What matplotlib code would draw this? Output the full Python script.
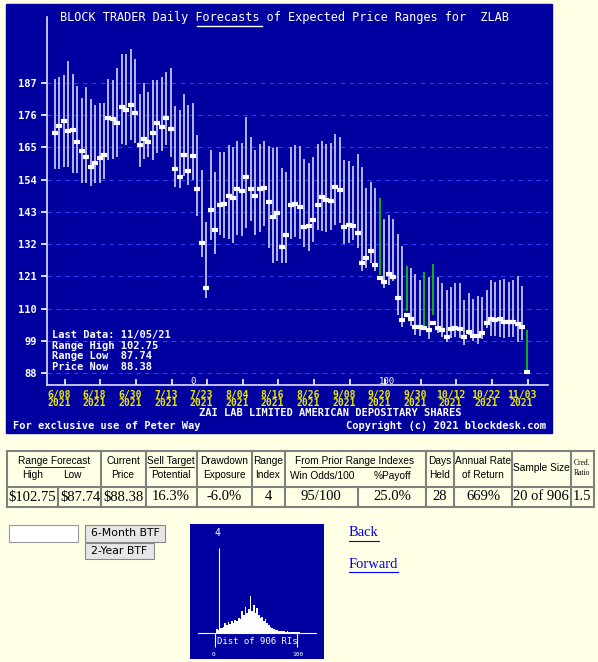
import matplotlib
matplotlib.use('Agg')
import matplotlib.pyplot as plt
from matplotlib.patches import Rectangle

W, H = 598, 662
BLUE = '#0000a0'
PAGE = '#ffffe6'
MONO = 'DejaVu Sans Mono'

# daily forecast ranges (high, low) and the price at forecast time
hi = [188.2, 189.1, 189.7, 194.5, 190.0, 186.0, 182.0, 185.7, 181.5, 179.4, 180.0, 180.3,
      188.2, 188.0, 192.0, 196.9, 196.9, 198.6, 195.0, 183.2, 187.1, 184.0, 188.0, 188.0,
      189.1, 190.8, 192.0, 179.2, 177.8, 183.2, 179.4, 180.3,
      169.2, 157.3, 139.6, 164.1, 156.7, 163.5, 163.5, 165.8, 165.0, 167.2, 166.4, 175.3,
      168.4, 164.1, 166.2, 167.2, 165.6, 164.7, 165.0, 157.9, 156.7, 165.0, 165.8, 165.6,
      161.0, 159.8, 161.8, 166.2, 167.2, 166.2, 166.4, 169.6, 168.7, 160.7, 160.5, 158.6,
      162.7, 158.4, 151.0, 153.3, 151.0, 147.6, 140.4, 141.9, 140.4,
      135.4, 131.3, 124.5, 123.7, 121.8, 119.7, 122.6, 120.9, 125.2, 120.9, 118.8, 116.3,
      117.2, 118.8, 118.6, 112.9, 115.2, 113.3, 114.3, 113.8, 116.3, 119.7, 119.2, 119.7,
      120.0, 119.2, 119.7, 121.0, 117.7, 102.75]
lo = [157.5, 157.5, 158.4, 158.4, 156.1, 156.1, 153.0, 153.0, 151.8, 153.0, 153.0, 154.1,
      160.7, 160.9, 161.8, 166.2, 165.7, 167.5, 166.4, 158.2, 161.2, 161.8, 160.7, 163.2,
      163.9, 165.7, 161.8, 151.6, 151.0, 155.2, 152.2, 153.9,
      141.6, 127.7, 113.5, 133.4, 128.6, 135.1, 134.0, 133.6, 132.5, 135.1, 134.8, 137.4,
      140.0, 135.1, 136.2, 138.2, 130.8, 125.7, 126.3, 125.7, 125.7, 133.6, 134.3, 133.6,
      130.9, 129.8, 132.8, 136.8, 136.6, 136.2, 136.8, 138.5, 139.1, 132.0, 132.5, 133.4,
      130.5, 122.9, 123.7, 125.4, 122.9, 121.6, 116.9, 118.0, 119.5,
      107.8, 103.8, 109.3, 104.0, 101.0, 100.6, 103.8, 99.5, 107.8, 101.5, 100.4, 98.7,
      99.8, 100.4, 99.8, 97.6, 101.0, 99.0, 97.9, 99.5, 103.2, 100.6, 100.6, 100.2,
      99.8, 100.2, 100.2, 98.7, 99.3, 88.9]
price = [169.8, 172.3, 173.9, 170.5, 170.8, 167.0, 163.8, 161.8, 158.2, 159.8, 161.4, 162.3,
         175.0, 174.8, 173.2, 178.7, 177.8, 179.4, 176.8, 165.9, 168.0, 166.8, 169.8, 173.2,
         171.8, 175.0, 171.2, 157.5, 154.8, 162.5, 157.1, 162.1,
         150.9, 132.3, 116.9, 143.5, 136.8, 145.3, 145.7, 148.4, 147.8, 150.9, 150.0, 154.8,
         150.7, 148.4, 150.7, 151.1, 146.2, 141.1, 142.6, 130.9, 135.0, 145.3, 145.7, 144.5,
         137.7, 138.1, 140.1, 145.3, 148.2, 146.9, 146.6, 151.5, 150.6, 137.7, 138.4, 138.1,
         135.7, 125.4, 127.4, 129.5, 124.8, 120.3, 119.2, 121.8, 120.9,
         113.5, 106.1, 107.7, 106.3, 103.6, 103.6, 103.3, 102.7, 105.0, 103.2, 102.7, 100.4,
         102.9, 103.2, 102.9, 100.2, 102.1, 100.6, 100.6, 101.5, 105.0, 106.3, 106.1, 106.3,
         105.3, 105.3, 105.3, 104.7, 103.8, 88.38]
green_days = [73, 79, 83, 85, 106]

yticks = [88, 99, 110, 121, 132, 143, 154, 165, 176, 187]
date_labels = ['6/08', '6/18', '6/30', '7/13', '7/23', '8/04', '8/16', '8/26',
               '9/08', '9/20', '9/30', '10/12', '10/22', '11/03']
info_lines = ['Last Data: 11/05/21', 'Range High 102.75', 'Range Low  87.74', 'Price Now  88.38']

# table
head_cols = [7, 58, 101, 146, 197, 252, 285, 358, 426, 454, 512, 571, 594]
values = ['$102.75', '$87.74', '$88.38', '16.3%', '-6.0%', '4', '95/100', '25.0%',
          '28', '669%', '20 of 906', '1.5']

# distribution of range indexes (2-point bins, 0..100)
ri_bins = list(range(0, 100, 2))
ri_heights = [4, 3, 5, 5, 6, 10, 8, 11, 9, 12, 10, 13, 12, 15, 14, 22, 18, 26, 20, 24,
              37, 22, 28, 20, 25, 18, 15, 16, 12, 14, 10, 8, 6, 5, 4, 3, 3, 2, 2, 2,
              2, 1, 2, 1, 1, 1, 1, 1, 1, 1]
current_ri = 4


def rect(x0, y0, x1, y1):
    return [x0 / W, 1 - y1 / H, (x1 - x0) / W, (y1 - y0) / H]


def ftext(x, y, s, **kw):
    kw.setdefault('va', 'center')
    fig.text(x / W, 1 - y / H, s, **kw)


def fline(x0, y0, x1, y1, **kw):
    fig.add_artist(plt.Line2D([x0 / W, x1 / W], [1 - y0 / H, 1 - y1 / H], **kw))


fig = plt.figure(figsize=(W / 100, H / 100), dpi=100, facecolor=PAGE)
fig.add_artist(Rectangle((6 / W, 1 - 433 / H), 546 / W, 429 / H, color=BLUE, zorder=0))

# ---- main chart
ax = fig.add_axes(rect(47, 17, 548, 385))
ax.set_facecolor('none')
y_bot = 88 - 12 / 2.93
y_top = 88 + 356 / 2.93
ax.set_ylim(y_bot, y_top)
ax.set_xlim(-1.8, 110.8)
for s in ['top', 'right']:
    ax.spines[s].set_visible(False)
for s in ['left', 'bottom']:
    ax.spines[s].set_color('#e0e0ff')
    ax.spines[s].set_linewidth(1.2)

for t in yticks:
    ax.axhline(t, color='#2244ff', lw=0.8, ls=(0, (4, 4)), zorder=1)
ax.set_yticks(yticks)
ax.set_yticklabels([str(t) for t in yticks], color='white', fontfamily=MONO,
                   fontweight='bold', fontsize=7.5)
ax.tick_params(axis='y', colors='white', length=4, width=1.2)

xs = list(range(len(hi)))
bar_cols = ['#10c010' if i in green_days else '#c4c4f0' for i in xs]
ax.vlines(xs, lo, hi, colors=bar_cols, lw=1.3, zorder=2)
ax.plot(xs, price, ls='none', marker='_', ms=4.5, mew=3, color='white', zorder=3)

tick_idx = [k * 8 for k in range(len(date_labels))]
ax.set_xticks([i + 2.2 for i in tick_idx])
ax.set_xticklabels([])
ax.tick_params(axis='x', direction='in', length=4, colors='white', width=1.2)
for i, lab in zip(tick_idx, date_labels):
    ax.text(i + 0.9, y_bot - 1.6, lab + '\n2021', color='#e8e800', fontfamily=MONO,
            fontweight='bold', fontsize=7, ha='center', va='top', linespacing=0.75,
            clip_on=False)

ftext(60, 18, 'BLOCK TRADER Daily Forecasts of Expected Price Ranges for  ZLAB',
      color='white', fontfamily=MONO, fontsize=8.6)
fline(197, 26, 262, 26, color='white', lw=1)
for k, line in enumerate(info_lines):
    ftext(52, 335 + k * 10.7, line, color='white', fontfamily=MONO, fontweight='bold',
          fontsize=7.5)
ftext(193, 381, '0', color='white', fontfamily=MONO, fontsize=6.5, ha='center')
ftext(387, 381, '100', color='white', fontfamily=MONO, fontsize=6.5, ha='center')
ftext(330, 413, 'ZAI LAB LIMITED AMERICAN DEPOSITARY SHARES', color='white',
      fontfamily=MONO, fontweight='bold', fontsize=7.5, ha='center')
ftext(13, 426, 'For exclusive use of Peter Way', color='white', fontfamily=MONO,
      fontweight='bold', fontsize=7.5)
ftext(546, 426, 'Copyright (c) 2021 blockdesk.com', color='white', fontfamily=MONO,
      fontweight='bold', fontsize=7.5, ha='right')

# ---- table
ty0, ty1, ty2 = 451, 487, 507
grey = '#808080'
fline(head_cols[0], ty0, head_cols[-1], ty0, color=grey, lw=1.5)
fline(head_cols[0], ty1, head_cols[-1], ty1, color=grey, lw=1.5)
fline(head_cols[0], ty2, head_cols[-1], ty2, color=grey, lw=1.5)
for k, x in enumerate(head_cols):
    top = ty1 if k in (1, 7) else ty0
    fline(x, top, x, ty2, color=grey, lw=1.5)
SANS = 'Liberation Sans'
hs = dict(fontfamily=SANS, fontsize=7.3, ha='center', color='black')
ftext(54, 461, 'Range Forecast', **hs)
fline(25, 467, 84, 467, color='black', lw=0.6)
ftext(33, 475, 'High', **hs)
ftext(72, 475, 'Low', **hs)
ftext(123, 468, 'Current\nPrice', linespacing=1.4, **hs)
ftext(171, 461, 'Sell Target', **hs)
fline(149, 467, 194, 467, color='black', lw=0.6)
ftext(171, 475, 'Potential', **hs)
ftext(224, 468, 'Drawdown\nExposure', linespacing=1.4, **hs)
ftext(268, 468, 'Range\nIndex', linespacing=1.4, **hs)
ftext(355, 461, 'From Prior Range Indexes', **hs)
fline(301, 467, 410, 467, color='black', lw=0.6)
ftext(322, 476, 'Win Odds/100', **hs)
ftext(392, 476, '%Payoff', **hs)
ftext(440, 468, 'Days\nHeld', linespacing=1.4, **hs)
ftext(483, 468, 'Annual Rate\nof Return', linespacing=1.4, **hs)
ftext(541, 468, 'Sample Size', **hs)
ftext(582, 468, 'Cred.\nRatio', fontfamily='Liberation Serif', fontsize=5.5, ha='center',
      linespacing=1.3)
centers = [32, 80, 123, 171, 224, 268, 321, 392, 440, 483, 541, 582]
for cx, v in zip(centers, values):
    ftext(cx, 497, v, fontfamily='Liberation Serif', fontsize=10.5, ha='center')

# ---- form controls and links
fig.add_artist(Rectangle((9 / W, 1 - 542 / H), 69 / W, 17 / H, facecolor='white',
                         edgecolor='#999999', lw=0.8))
for (x0, y0, x1, y1, lab) in [(85, 525, 165, 542, '6-Month BTF'), (85, 543, 154, 559, '2-Year BTF')]:
    fig.add_artist(Rectangle((x0 / W, 1 - y1 / H), (x1 - x0) / W, (y1 - y0) / H,
                             facecolor='#e6e6e6', edgecolor='#888888', lw=0.8))
    ftext((x0 + x1) / 2, (y0 + y1) / 2, lab, fontfamily='DejaVu Sans', fontsize=7.8,
          ha='center')
ftext(349, 533, 'Back', fontfamily='Liberation Serif', fontsize=10.5, color='#0000ee')
fline(349, 541, 379, 541, color='#0000ee', lw=0.8)
ftext(349, 564, 'Forward', fontfamily='Liberation Serif', fontsize=10.5, color='#0000ee')
fline(349, 572, 398, 572, color='#0000ee', lw=0.8)

# ---- RI distribution thumbnail
hx = fig.add_axes(rect(190, 524, 324, 659))
hx.set_facecolor(BLUE)
hx.set_xlim(-31, 128.6)
hx.set_ylim(-26, 109)
hx.set_xticks([])
hx.set_yticks([])
for s in hx.spines.values():
    s.set_visible(False)
hx.bar(ri_bins, ri_heights, width=2, align='edge', color='white', lw=0)
hx.vlines(current_ri, 0, 85, color='white', lw=0.8)
hx.axhline(0, xmin=0.06, xmax=0.94, color='white', lw=0.8)
hx.vlines([-1, 97], -14, 0, color='white', lw=0.8)
hx.text(current_ri - 2, 100, '4', color='white', fontfamily=MONO, fontsize=7, ha='center',
        va='center')
hx.text(1, -8, 'Dist of 906 RIs', color='white', fontfamily=MONO, fontsize=6.5,
        va='center')
hx.text(-3, -21, '0', color='white', fontfamily=MONO, fontsize=4.5, ha='center', va='center')
hx.text(98, -21, '100', color='white', fontfamily=MONO, fontsize=4.5, ha='center',
        va='center')

fig.savefig('out.png', dpi=100, facecolor=PAGE)
